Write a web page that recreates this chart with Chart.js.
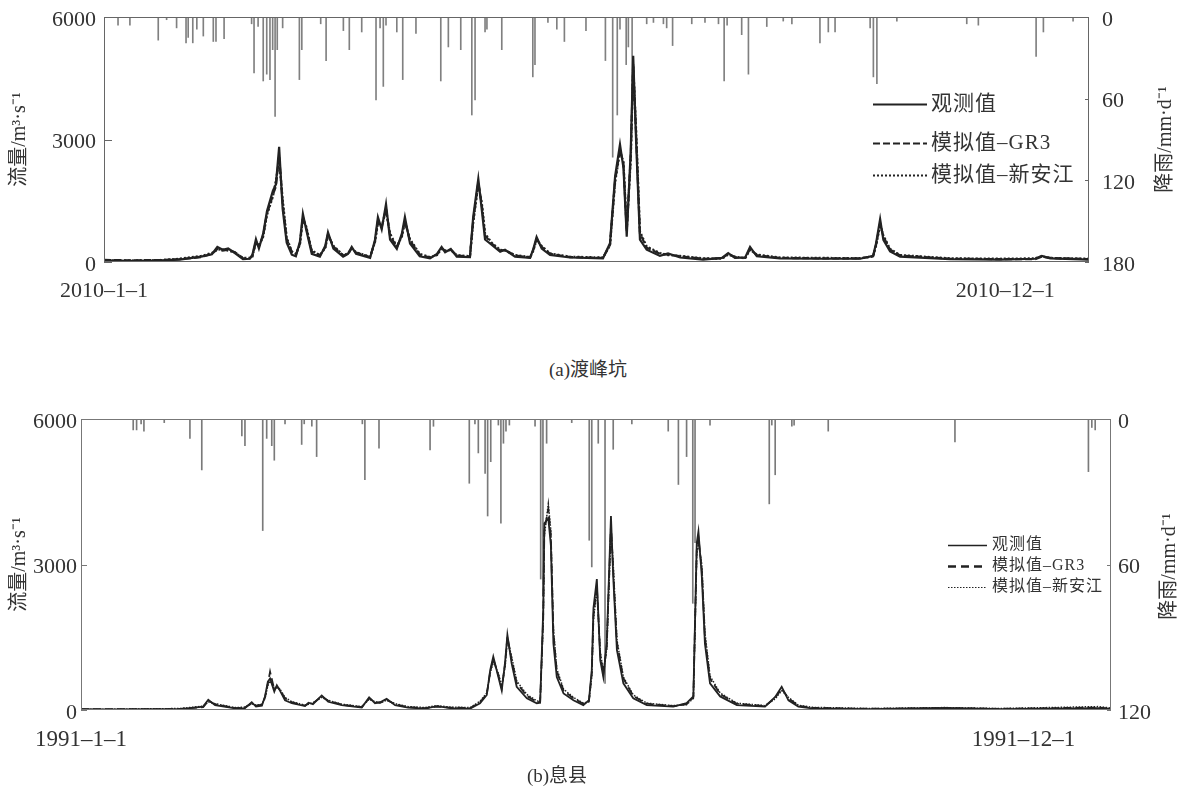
<!DOCTYPE html>
<html><head><meta charset="utf-8">
<script src="https://cdn.jsdelivr.net/npm/chart.js@4.4.1/dist/chart.umd.min.js"></script>
<style>
html,body{margin:0;padding:0;background:#fff;width:1185px;height:787px;overflow:hidden;}
canvas{position:absolute;left:0;}
#ca{top:0;} #cb{top:400px;}
.cap{position:absolute;font-family:"Liberation Serif","Noto Sans CJK SC",serif;font-size:19px;color:#333;transform:translate(-50%,-50%);white-space:nowrap;}
</style></head><body>
<canvas id="ca" width="1185" height="320"></canvas>
<canvas id="cb" width="1185" height="360"></canvas>
<div class="cap" style="left:588px;top:367px">(a)渡峰坑</div>
<div class="cap" style="left:557px;top:773px">(b)息县</div>
<script>
// ---------- tick labels ----------
const xTickDays = [0, 334];
const aXLabels = ['2010–1–1', '2010–12–1'];
const bXLabels = ['1991–1–1', '1991–12–1'];
const flowTicks = [0, 3000, 6000];
const aRainTicks = [0, 60, 120, 180];
const bRainTicks = [0, 60, 120];
const seriesNames = ['观测值', '模拟值–GR3', '模拟值–新安江'];

// ---------- (a) 渡峰坑 2010 ----------
const aDays = [0,10,21,28,36,40,42,44,46,48.5,
  51.5,54,55,56.3,57.4,59,60.4,61.5,62.6,63.7,
  64.9,66.2,67.7,69.6,71.1,72.6,73.7,74.9,77,80,
  82,83,85,88.6,90.4,91.8,93.4,98.6,100.4,101.5,
  102.9,104.5,106,108.5,110.4,111.5,113.4,117,120.8,123.4,
  125.1,126.4,128.5,130.7,135.6,136.8,138.7,140,141.2,143.7,
  146.8,148.6,152.3,157.9,159,160.3,162.2,165.3,172.7,184.9,
  187.5,189.4,191.2,192.5,193.7,195.2,196.1,197.2,198.6,201.1,
  206,209,213.5,222,229,231.3,233.8,237.6,239.4,241.9,
  250.5,265.4,280.2,285,286.1,287.6,288.8,291.3,295,313.5,
  332,345,347.5,350.6,365];
const aObs = [40,30,40,60,130,190,370,300,330,220,
  70,80,180,560,330,700,1250,1500,1750,1900,
  2820,1300,470,180,140,500,1180,800,200,130,
  400,730,330,130,200,370,200,100,540,1100,
  800,1420,550,320,700,1100,450,140,90,200,
  370,240,320,130,120,1100,2040,1270,550,420,
  250,300,130,100,300,610,330,170,110,90,
  460,2100,2880,2300,620,2750,5050,2900,550,300,
  150,210,110,60,100,220,100,110,370,140,
  90,80,80,150,460,1050,540,260,130,70,
  60,80,150,90,60];
const aGR3 = [50,40,50,70,120,200,320,280,300,240,
  90,90,150,500,380,650,1200,1400,1650,1850,
  2600,1450,560,250,180,450,1100,850,260,160,
  360,680,380,160,190,340,230,120,500,1000,
  850,1300,650,360,650,1000,520,180,110,180,
  340,270,300,160,130,1000,1950,1400,650,450,
  280,290,160,110,280,560,370,200,120,100,
  420,2000,2750,2400,750,2600,4850,3100,700,350,
  200,180,140,80,90,200,120,100,320,170,
  100,90,90,140,420,950,620,300,160,80,
  70,70,130,100,70];
const aXAJ = [30,35,45,80,150,220,300,310,280,230,
  100,100,130,480,400,620,1150,1380,1600,2000,
  2500,1550,600,260,200,420,1050,880,280,170,
  340,650,400,170,210,320,240,130,480,950,
  880,1250,700,380,620,980,560,200,120,170,
  320,280,290,170,140,950,1900,1450,700,470,
  300,280,170,120,260,540,390,210,130,110,
  400,1950,2700,2450,800,2500,4800,3200,750,380,
  220,170,150,90,80,180,130,90,300,180,
  110,100,95,130,400,900,650,320,170,90,
  80,90,140,100,80];
const aRainDays = [5.2,9.6,20.1,23.2,26.9,30.4,31.2,32.9,34.4,36.8,
  40.5,41.5,44.5,54.7,55.6,57.1,59,60.3,61.5,62.5,
  63.4,64.2,66.2,72.4,73.3,80.3,82.3,88.7,90.9,95.5,
  100.8,102.3,103.5,104.5,108.5,110.7,115.6,124.8,127.6,132.2,
  136.3,137.5,141.2,141.9,147.4,158.9,159.7,164.5,167.8,170.6,
  178.6,185.8,188.5,190.2,191.2,193.5,194.3,195.7,201.1,203.6,
  207.3,208.5,210.7,217.8,222.7,227.7,229.8,230.9,236.3,238.8,
  245.6,251.7,254.9,265.3,268.4,270.9,283.9,285.1,286.4,293.8,
  319.7,324,345.4,348.1,359.1];
const aRain = [6,6,17,2,8,19,15,19,9,14,
  18,18,16,5,41,7,47,42,46,24,
  73,24,8,46,24,5,32,10,24,11,
  61,8,51,6,11,46,12,47,22,24,
  72,61,11,9,24,44,35,4,9,18,
  10,32,103,72,9,35,22,60,5,4,
  5,8,21,5,4,5,47,6,13,42,
  7,3,5,19,11,11,8,44,49,3,
  5,6,29,11,3];

// ---------- (b) 息县 1991 ----------
const bDays = [0,10.3,24.5,35.1,43.3,45.1,47.5,54.6,58.1,60.5,
  62,64.1,65.2,66.2,67,68.5,69.4,70.5,72.3,74.7,
  79.4,80.6,82.2,85.3,87.6,92.4,99.5,102.1,104.2,106,
  108.3,111.3,115.9,121.9,126.1,130.8,137.9,141.4,143.8,145,
  146.1,147.9,149.1,150.3,151.1,152.6,154.4,158,161.5,162.7,
  163.8,164.2,165.6,166.5,167.4,168.6,171,174.5,178,180,
  181,181.6,182.8,184,185.1,186.3,187.8,188.6,189.9,192.2,
  195.7,200.5,209.9,214.6,217,218.2,218.8,220,221.1,222.9,
  226.5,232.4,242.4,246,248.3,250.7,254.2,259,279.6,306.2,
  325.7,360.4,365];
const bObs = [15,10,20,20,70,210,100,35,40,160,
  70,90,280,580,650,380,510,400,200,140,
  80,150,120,300,170,100,50,260,140,160,
  230,100,50,30,80,40,30,140,310,820,
  1100,680,400,1000,1550,960,480,240,140,150,
  2060,3850,3950,3400,1380,680,340,200,100,200,
  820,2100,2700,1030,680,1370,4000,2750,1240,550,
  240,100,70,140,280,3440,3680,2750,1370,550,
  280,100,70,270,480,200,70,35,20,45,
  20,40,25];
const bGR3 = [20,15,15,25,60,190,120,40,50,140,
  90,110,260,540,790,420,480,420,240,160,
  90,130,140,280,190,110,60,240,160,150,
  210,120,60,40,70,50,40,160,330,780,
  1050,720,450,950,1500,1050,560,290,170,160,
  1900,3700,4150,3600,1600,800,400,240,130,180,
  750,1950,2550,1150,750,1300,3800,2900,1400,650,
  290,130,80,120,260,3300,3550,2900,1500,650,
  330,130,80,250,440,240,90,45,25,40,
  25,50,30];
const bXAJ = [10,12,25,30,80,170,130,50,60,130,
  100,120,240,500,600,450,470,430,260,170,
  100,120,150,260,200,120,70,220,170,150,
  200,130,70,50,90,60,50,180,350,750,
  1000,750,500,900,1450,1100,600,320,190,170,
  1800,3600,4250,3700,1700,850,430,260,140,170,
  700,1850,2500,1200,800,1250,3700,3000,1450,680,
  310,140,90,110,240,3200,3450,3000,1600,700,
  350,140,90,230,400,260,100,55,30,50,
  30,70,40];
const bRainDays = [18.5,19.7,21.3,22.3,29.5,38.6,42.8,57,58.1,64.4,
  65.8,67.6,68.5,72.3,78.2,79.1,81.8,83.5,99.7,100.6,
  105.6,123.7,124.9,137.6,139.6,140.8,143.2,144.1,145.2,147.9,
  148.8,149.7,150.6,151.8,160.9,162.9,163.7,165,173.9,180.1,
  181,183.3,185.7,188.6,195.2,208.1,211.7,214.6,216.8,217.6,
  222.9,243.9,244.8,246,251.9,252.7,264.8,309.7,357,358.2,
  359.4];
const bRain = [4.5,4.5,2,5,1.5,8,21,7,11,46,
  8,11,17,2,10.5,2,3,15.5,2,25,
  12,12.8,3,26.5,2,14,22.4,40,17.6,2.5,
  43,10,5,2.5,3,66,73,10,1.5,50,
  61,10,109,12.5,2,5,27,15.5,76,51,
  2.5,35,2.5,23,3,2.5,5,9.4,21.7,3.5,
  4.5];

// ---------- drawing ----------
const FONT = '"Liberation Serif","Noto Sans CJK SC",serif';
const INK = '#222';
const TXT = '#333';
Chart.defaults.font.family = FONT;
Chart.defaults.color = TXT;

function pairs(xs, ys) { return xs.map((x, i) => ({ x: x, y: ys[i] })); }
function noPad(s) { s.paddingTop = 0; s.paddingBottom = 0; s.paddingLeft = 0; s.paddingRight = 0; }

const decor = {
  id: 'decor',
  afterDatasetsDraw(chart, args, o) {
    const { ctx, chartArea: a } = chart;
    ctx.save();
    ctx.strokeStyle = o.frameColor; ctx.lineWidth = 1; ctx.setLineDash([]);
    ctx.strokeRect(Math.round(a.left) + 0.5, Math.round(a.top) + 0.5,
      Math.round(a.right - a.left) - 1, Math.round(a.bottom - a.top) - 1);
    const y = chart.scales.y, y1 = chart.scales.y1;
    ctx.beginPath();
    y.ticks.forEach(t => { const p = Math.round(y.getPixelForValue(t.value)) + 0.5; ctx.moveTo(a.left, p); ctx.lineTo(a.left + o.tickL, p); });
    y1.ticks.forEach(t => { const p = Math.round(y1.getPixelForValue(t.value)) + 0.5; ctx.moveTo(a.right, p); ctx.lineTo(a.right - o.tickR, p); });
    ctx.stroke();
    // right axis title (reads bottom to top)
    ctx.save();
    ctx.translate(o.rtX, (a.top + a.bottom) / 2 + o.rtDy);
    ctx.rotate(-Math.PI / 2);
    ctx.font = o.rtFont; ctx.fillStyle = TXT; ctx.textAlign = 'center'; ctx.textBaseline = 'middle';
    ctx.fillText(o.rightTitle, 0, 0);
    ctx.restore();
    // legend
    const L = o.legend;
    let k = 0;
    chart.data.datasets.forEach(ds => {
      if (ds.type !== 'line') return;
      const yy = L.rows[k];
      ctx.beginPath();
      ctx.strokeStyle = INK; ctx.lineWidth = L.widths[k];
      ctx.setLineDash(L.dashes[k]);
      ctx.moveTo(L.x, Math.round(yy) + 0.5); ctx.lineTo(L.x + L.len, Math.round(yy) + 0.5);
      ctx.stroke();
      ctx.setLineDash([]);
      ctx.font = L.font; ctx.fillStyle = TXT; ctx.textAlign = 'left'; ctx.textBaseline = 'middle';
      if ('letterSpacing' in ctx) ctx.letterSpacing = L.spacing;
      ctx.fillText(ds.label, L.x + L.len + L.gap, yy);
      if ('letterSpacing' in ctx) ctx.letterSpacing = '0px';
      k++;
    });
    ctx.restore();
  }
};

function build(id, P) {
  return new Chart(document.getElementById(id), {
    type: 'line',
    data: {
      datasets: [
        { type: 'line', label: seriesNames[0], data: pairs(P.days, P.obs), borderColor: INK, borderWidth: P.lw[0], borderDash: [], pointRadius: 0, tension: 0, order: 1, yAxisID: 'y' },
        { type: 'line', label: seriesNames[1], data: pairs(P.days, P.gr3), borderColor: INK, borderWidth: P.lw[1], borderDash: P.dash, pointRadius: 0, tension: 0, order: 2, yAxisID: 'y' },
        { type: 'line', label: seriesNames[2], data: pairs(P.days, P.xaj), borderColor: INK, borderWidth: P.lw[2], borderDash: P.dot, pointRadius: 0, tension: 0, order: 3, yAxisID: 'y' },
        { type: 'bar', label: '降雨', data: pairs(P.rDays, P.rain), backgroundColor: P.barColor, borderWidth: 0, barThickness: 1, grouped: false, order: 10, yAxisID: 'y1', xAxisID: 'x' }
      ]
    },
    options: {
      responsive: false, animation: false, devicePixelRatio: 1,
      layout: { padding: { top: P.top, left: 0, right: 0, bottom: 0 } },
      plugins: { legend: { display: false }, tooltip: { enabled: false }, decor: P.decor },
      scales: {
        x: {
          type: 'linear', min: 0, max: 365, offset: false,
          grid: { display: false, drawTicks: false }, border: { display: false },
          afterBuildTicks: s => { s.ticks = xTickDays.map(v => ({ value: v })); },
          afterFit: s => { s.height = P.xH; noPad(s); },
          ticks: { autoSkip: false, maxRotation: 0, padding: P.xPad, color: TXT, font: { size: P.xFont },
            callback: v => { const i = xTickDays.indexOf(v); return i >= 0 ? P.xLabels[i] : ''; } }
        },
        y: {
          position: 'left', min: 0, max: 6000,
          grid: { display: false, drawTicks: false }, border: { display: false },
          afterBuildTicks: s => { s.ticks = flowTicks.map(v => ({ value: v })); },
          afterFit: s => { s.width = P.yW; noPad(s); },
          ticks: { padding: P.yPad, color: TXT, font: { size: P.tickFont }, labelOffset: 3, callback: v => String(v) },
          title: { display: true, text: '流量/m³·s⁻¹', color: TXT, font: { size: P.titleFont, family: FONT }, padding: { top: P.yTitlePad, bottom: 0 } }
        },
        y1: {
          position: 'right', min: 0, max: P.rainMax, reverse: true,
          grid: { display: false, drawTicks: false }, border: { display: false },
          afterBuildTicks: s => { s.ticks = P.rainTicks.map(v => ({ value: v })); },
          afterFit: s => { s.width = P.y1W; noPad(s); },
          ticks: { padding: P.y1Pad, color: TXT, font: { size: P.tickFont }, labelOffset: 3, callback: v => String(v) }
        }
      }
    },
    plugins: [decor]
  });
}

build('ca', {
  days: aDays, obs: aObs, gr3: aGR3, xaj: aXAJ, rDays: aRainDays, rain: aRain,
  lw: [2.2, 2.2, 2.2], dash: [7, 3], dot: [2, 2], barColor: '#808080',
  top: 17, xH: 58, xPad: 16, xFont: 22, xLabels: aXLabels,
  yW: 104, yPad: 8, tickFont: 22, titleFont: 20, yTitlePad: 8,
  y1W: 96, y1Pad: 13, rainMax: 180, rainTicks: aRainTicks,
  decor: { frameColor: '#666', tickL: 8, tickR: 4, rtX: 1166, rtDy: 0, rtFont: '20px ' + FONT, rightTitle: '降雨/mm·d⁻¹',
    legend: { x: 873, rows: [104, 143, 175], len: 54, gap: 4, widths: [2, 2, 2.2], dashes: [[], [7, 3], [2, 2]],
      font: '21px ' + FONT, spacing: '1px' } }
});

build('cb', {
  days: bDays, obs: bObs, gr3: bGR3, xaj: bXAJ, rDays: bRainDays, rain: bRain,
  lw: [1.8, 1.8, 1.5], dash: [8, 4], dot: [1.5, 1.5], barColor: '#7a7a7a',
  top: 19, xH: 50, xPad: 16, xFont: 23, xLabels: bXLabels,
  yW: 81, yPad: 4, tickFont: 22, titleFont: 20, yTitlePad: 8,
  y1W: 74, y1Pad: 7, rainMax: 120, rainTicks: bRainTicks,
  decor: { frameColor: '#777', tickL: 6, tickR: 4, rtX: 1170, rtDy: 2, rtFont: '20px ' + FONT, rightTitle: '降雨/mm·d⁻¹',
    legend: { x: 948, rows: [145, 166, 187], len: 39, gap: 5, widths: [1.5, 2.5, 1], dashes: [[], [8, 5], [1.5, 1.5]],
      font: '16px ' + FONT, spacing: '1px' } }
});
</script>
</body></html>
